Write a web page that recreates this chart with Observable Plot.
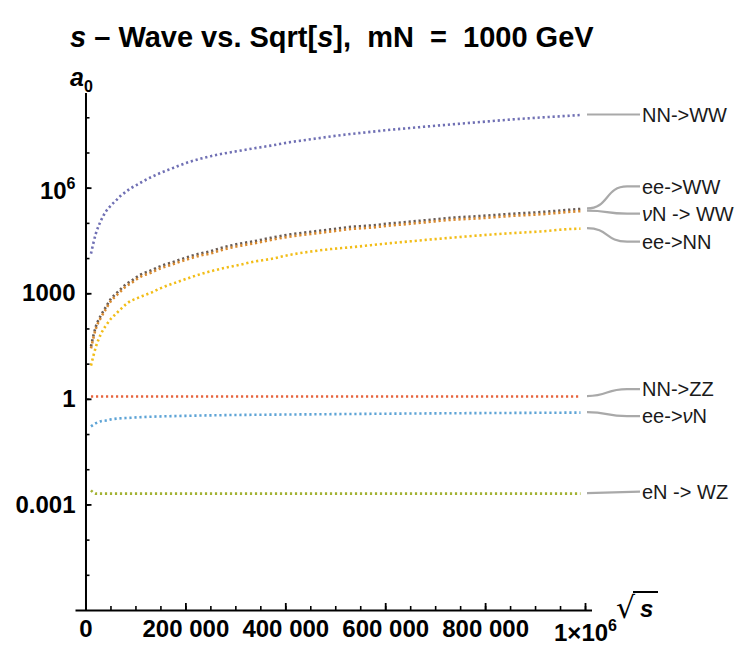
<!DOCTYPE html>
<html><head><meta charset="utf-8">
<script src="https://cdn.jsdelivr.net/npm/d3@7"></script>
<script src="https://cdn.jsdelivr.net/npm/@observablehq/plot@0.6"></script>
<style>
html,body{margin:0;padding:0;background:#fff;}
body{width:747px;height:645px;overflow:hidden;font-family:"Liberation Sans",Arial,sans-serif;}
#head{position:relative;height:60px;}
#title{position:absolute;left:70px;top:23px;font-size:29px;line-height:29px;font-weight:bold;white-space:pre;color:#000;}
#chart svg{display:block;}
</style></head><body>
<div id="head"><div id="title"><i>s</i> – Wave vs. Sqrt[<i>s</i>],  mN  =  1000 GeV</div></div>
<div id="chart"></div>
<script>
// sqrt(s) sample positions
const sqrtS = [10000, 20000, 30000, 40000, 50000, 60000, 70000, 80000, 90000, 100000,
  110000, 130000, 150000, 170000, 190000, 210000, 230000, 250000, 270000, 290000,
  310000, 335000, 370000, 410000, 450000, 490000, 530000, 570000, 610000, 650000,
  680000, 730000, 790000, 850000, 910000, 970000, 990000];
const nnWW = [13800, 52500, 120000, 219000, 324000, 447000, 617000, 794000, 1.0e6, 1.2e6,
  1.45e6, 2.04e6, 2.75e6, 3.55e6, 4.57e6, 5.75e6, 6.92e6, 8.13e6, 9.33e6, 1.05e7,
  1.17e7, 1.35e7, 1.62e7, 2.04e7, 2.45e7, 2.95e7, 3.47e7, 3.98e7, 4.57e7, 5.13e7,
  5.62e7, 6.46e7, 7.59e7, 8.91e7, 1.02e8, 1.15e8, 1.2e8];
const eeWW = [32, 120, 245, 425, 720, 1000, 1380, 1860, 2290, 2880,
  3540, 4570, 6150, 7580, 9530, 11800, 14100, 16200, 19900, 23400,
  26900, 30800, 38800, 48900, 57500, 67500, 79300, 87000, 99800, 112000,
  123000, 144000, 162000, 186000, 209000, 245000, 257000];
const nuNWW = [28, 104, 213, 370, 629, 868, 1200, 1620, 1990, 2500,
  3080, 3970, 5350, 6580, 8290, 10200, 12300, 14000, 17300, 20400,
  23300, 26800, 33800, 42500, 49900, 58700, 68900, 75600, 86800, 97700,
  107000, 126000, 140000, 162000, 181000, 213000, 223000];
const eeNN = [9.1, 31.6, 72.4, 126, 195, 269, 372, 501, 631, 724,
  832, 1070, 1450, 1860, 2340, 2950, 3630, 4370, 5130, 5890,
  6760, 8130, 9770, 12900, 15800, 18600, 20900, 24000, 27500, 30900,
  33900, 38900, 45700, 52500, 58900, 69200, 70800];
const sqrtSFlat = [10000, 20000, 30000, 40000, 50000, 90000, 200000, 500000, 990000];
const nnZZ = [1.2, 1.2, 1.2, 1.2, 1.2, 1.2, 1.2, 1.2, 1.2];
const eeNuN = [0.17, 0.21, 0.24, 0.25, 0.27, 0.30, 0.34, 0.38, 0.42];
const eNWZ = [0.0026, 0.0021, 0.0021, 0.0021, 0.0021, 0.0021, 0.0021, 0.0021, 0.0021];

const yMajorTicks = [1e-3, 1, 1e3, 1e6];
const yMajorLabels = ["0.001", "1", "1000", "10"];
const yMinorTicks = [1e-5, 1e-4, 1e-3, 1e-2, 1e-1, 1, 1e1, 1e2, 1e3, 1e4, 1e5, 1e6, 1e7, 1e8];
const xMajorTicks = [0, 200000, 400000, 600000, 800000, 1000000];
const xMajorLabels = ["0", "200 000", "400 000", "600 000", "800 000", "1×10"];
const xMinorTicks = [0, 50000, 100000, 150000, 200000, 250000, 300000, 350000, 400000, 450000,
  500000, 550000, 600000, 650000, 700000, 750000, 800000, 850000, 900000, 950000, 1000000];

const series = [
  {label: [["NN->WW", false]], x: sqrtS, y: nnWW, color: "#7070b4", shift: 0},
  {label: [["ee->WW", false]], x: sqrtS, y: eeWW, color: "#6a5c54", shift: -22},
  {label: [["ν", true], ["N -> WW", false]], x: sqrtS, y: nuNWW, color: "#d88a30", shift: 3},
  {label: [["ee->NN", false]], x: sqrtS, y: eeNN, color: "#f2bd18", shift: 13.5},
  {label: [["NN->ZZ", false]], x: sqrtSFlat, y: nnZZ, color: "#e8663e", shift: -7},
  {label: [["ee->", false], ["ν", true], ["N", false]], x: sqrtSFlat, y: eeNuN, color: "#5ea4d6", shift: 4},
  {label: [["eN -> WZ", false]], x: sqrtSFlat, y: eNWZ, color: "#a2b232", shift: -1.5}
];

const yLab = new Map(yMajorTicks.map((t, i) => [t, yMajorLabels[i]]));
const xLab = new Map(xMajorTicks.map((t, i) => [t, xMajorLabels[i]]));
const FONT = "Liberation Sans, Arial, sans-serif";

const plot = Plot.plot({
  width: 747, height: 585,
  marginTop: 33, marginBottom: 35, marginLeft: 75.5, marginRight: 155,
  x: {domain: [-20000, 1014000], axis: null, label: null},
  y: {type: "log", domain: [1e-6, 4.9e8], axis: null, label: null},
  style: {fontFamily: FONT, background: "white", overflow: "visible"},
  marks: [
    ...series.map(s => Plot.line(s.x.map((x, i) => ({x, y: s.y[i]})), {
      x: "x", y: "y", stroke: s.color, strokeWidth: 2.6, strokeDasharray: "2.2,2.8",
      strokeLinecap: "butt", curve: "monotone-x"
    })),
    Plot.ruleY([1e-6], {stroke: "#000", strokeWidth: 2}),
    Plot.ruleX([0], {stroke: "#000", strokeWidth: 2}),
    Plot.axisY({ticks: yMinorTicks, tickSize: 4, dx: 14, tickFormat: () => "", label: null, strokeWidth: 1.6}),
    Plot.axisY({ticks: yMajorTicks, tickSize: 6, dx: 16, tickPadding: 10.5, tickFormat: d => yLab.get(d), label: null, strokeWidth: 1.8}),
    Plot.axisX({ticks: xMinorTicks, tickSize: 4, dy: -4, tickFormat: () => "", label: null, strokeWidth: 1.6}),
    Plot.axisX({ticks: xMajorTicks, tickSize: 7, dy: -7, tickPadding: 9, tickFormat: d => xLab.get(d), label: null, strokeWidth: 1.8})
  ]
});

const svg = d3.select(plot);
svg.selectAll('g[aria-label$="tick label"] text')
  .attr("font-size", 24).attr("font-weight", "bold").attr("font-family", FONT).attr("fill", "#000");

// superscripts on the axis tick labels
svg.selectAll('g[aria-label="y-axis tick label"] text').each(function () {
  if (this.textContent === "10") {
    const a = this.hasAttribute("y") ? "y" : "dy";
    this.setAttribute(a, "0.43em");
    d3.select(this).append("tspan").attr("font-size", 16).attr("dy", -10).text("6");
  }
});
svg.selectAll('g[aria-label="x-axis tick label"] text').each(function () {
  if (this.textContent === "1×10") {
    const a = this.hasAttribute("y") ? "y" : "dy";
    this.setAttribute(a, "0.88em");
    d3.select(this).append("tspan").attr("font-size", 16).attr("dy", -10).text("6");
  }
});

const xs = plot.scale("x"), ys = plot.scale("y");

// y axis label a0
const a0 = svg.append("text").attr("x", 70).attr("y", 26).attr("text-anchor", "start")
  .attr("font-family", FONT).attr("font-weight", "bold").attr("font-size", 25);
a0.append("tspan").attr("font-style", "italic").text("a");
a0.append("tspan").attr("font-size", 16).attr("dy", 6).text("0");

// x axis label sqrt(s)
svg.append("text").attr("x", 616).attr("y", 558).attr("text-anchor", "start")
  .attr("font-family", "DejaVu Sans, sans-serif").attr("font-size", 30).text("√");
svg.append("line").attr("x1", 633).attr("x2", 658).attr("y1", 532).attr("y2", 532)
  .attr("stroke", "#000").attr("stroke-width", 2);
svg.append("text").attr("x", 640).attr("y", 557).attr("text-anchor", "start").attr("font-family", FONT)
  .attr("font-weight", "bold").attr("font-style", "italic").attr("font-size", 24).text("s");

// callouts
const g = svg.append("g").attr("text-anchor", "start");
series.forEach(s => {
  const n = s.x.length;
  const x0 = xs.apply(s.x[n - 1]) + 7;
  const y0 = ys.apply(s.y[n - 1]);
  const y1 = y0 + s.shift;
  const xe = 640;
  const d = Math.abs(s.shift) < 2
    ? `M${x0},${y0}L${xe},${y1}`
    : `M${x0},${y0}C${x0 + 22},${y0} ${x0 + 18},${y1} ${x0 + 40},${y1}L${xe},${y1}`;
  g.append("path").attr("d", d).attr("fill", "none").attr("stroke", "#a9a9a9").attr("stroke-width", 2.2);
  const t = g.append("text").attr("x", xe + 2).attr("y", y1).attr("dy", "0.36em").attr("text-anchor", "start")
    .attr("font-family", FONT).attr("font-size", 20).attr("fill", "#1a1a1a");
  s.label.forEach(([txt, it]) => {
    const sp = t.append("tspan").text(txt);
    if (it) sp.attr("font-style", "italic");
  });
});

document.getElementById("chart").appendChild(plot);
</script></body></html>
